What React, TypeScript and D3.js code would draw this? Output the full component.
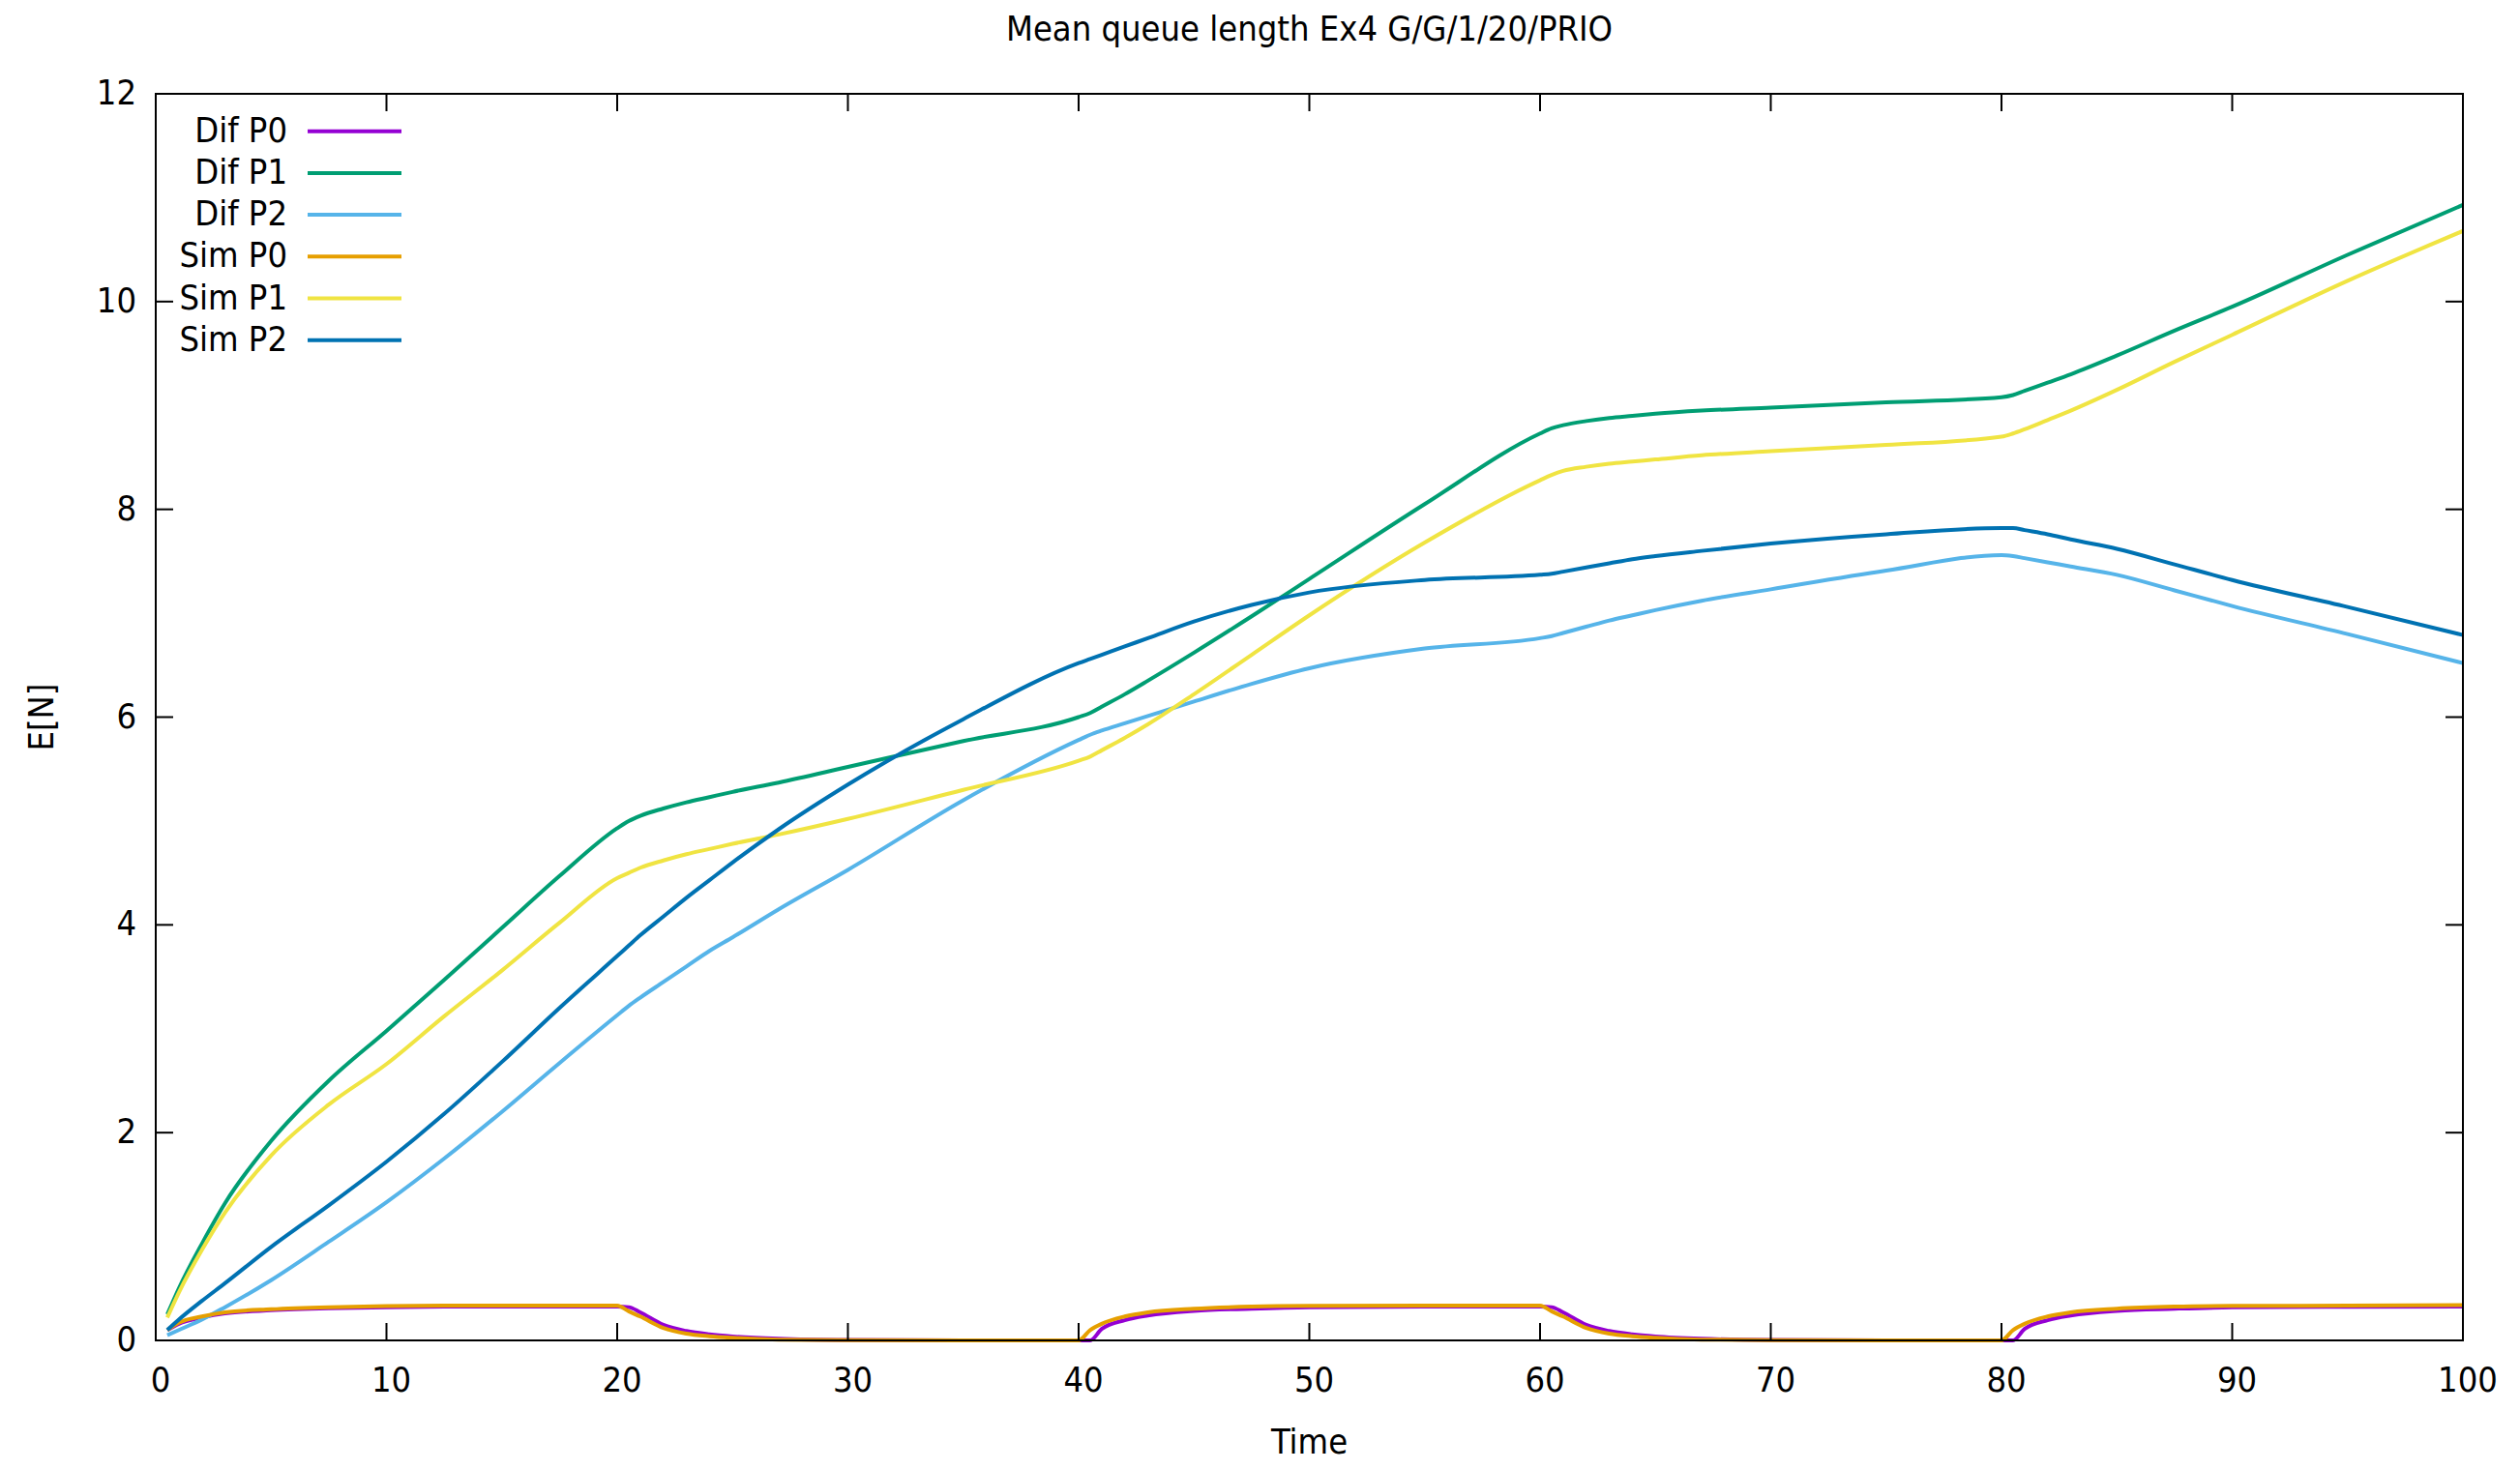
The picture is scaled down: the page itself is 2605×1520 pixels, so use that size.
import React from "react";
import * as d3 from "d3";

const title = "Mean queue length Ex4 G/G/1/20/PRIO";
const xLabel = "Time";
const yLabel = "E[N]";
const xTicks = [0, 10, 20, 30, 40, 50, 60, 70, 80, 90, 100];
const yTicks = [0, 2, 4, 6, 8, 10, 12];

const times = [0.5, 1, 2, 3, 5, 7.5, 10, 12.5, 15, 17.5, 20, 20.5, 21, 22, 23, 24, 25, 27, 30, 35, 40, 40.5, 41, 42, 43, 45, 47.5, 50, 55, 60, 60.5, 61, 62, 63, 64, 65, 67, 70, 75, 80, 80.5, 81, 82, 83, 85, 87.5, 90, 95, 100];

const difP0 = [0.1, 0.16, 0.22, 0.26, 0.29, 0.31, 0.32, 0.325, 0.325, 0.325, 0.325, 0.32, 0.27, 0.15, 0.09, 0.058, 0.038, 0.016, 0.004, 0, 0, 0, 0.11, 0.195, 0.24, 0.285, 0.305, 0.318, 0.325, 0.325, 0.32, 0.27, 0.15, 0.09, 0.058, 0.038, 0.016, 0.004, 0, 0, 0, 0.11, 0.195, 0.24, 0.285, 0.305, 0.318, 0.323, 0.325];
const difP1 = [0.25, 0.5, 0.93, 1.32, 1.92, 2.5, 2.98, 3.47, 3.97, 4.47, 4.93, 5.0, 5.05, 5.12, 5.18, 5.23, 5.28, 5.37, 5.52, 5.77, 6.0, 6.04, 6.1, 6.22, 6.35, 6.62, 6.97, 7.33, 8.05, 8.73, 8.78, 8.81, 8.85, 8.88, 8.9, 8.92, 8.95, 8.98, 9.03, 9.08, 9.1, 9.14, 9.22, 9.3, 9.48, 9.72, 9.95, 10.45, 10.93];
const difP2 = [0.05, 0.1, 0.2, 0.32, 0.58, 0.95, 1.33, 1.75, 2.2, 2.67, 3.13, 3.22, 3.3, 3.45, 3.6, 3.75, 3.88, 4.15, 4.53, 5.2, 5.78, 5.83, 5.87, 5.94, 6.01, 6.15, 6.32, 6.47, 6.66, 6.76, 6.78, 6.81, 6.87, 6.93, 6.98, 7.03, 7.12, 7.23, 7.41, 7.56, 7.55, 7.53, 7.49, 7.45, 7.37, 7.22, 7.07, 6.8, 6.52];
const simP0 = [0.1, 0.17, 0.23, 0.27, 0.3, 0.32, 0.33, 0.335, 0.335, 0.335, 0.335, 0.28, 0.23, 0.12, 0.065, 0.04, 0.025, 0.008, 0.002, 0, 0, 0.1, 0.16, 0.23, 0.27, 0.305, 0.325, 0.332, 0.335, 0.335, 0.28, 0.23, 0.12, 0.065, 0.04, 0.025, 0.008, 0.002, 0, 0, 0.1, 0.16, 0.23, 0.27, 0.305, 0.325, 0.332, 0.335, 0.34];
const simP1 = [0.22, 0.46, 0.87, 1.23, 1.78, 2.27, 2.66, 3.12, 3.56, 4.02, 4.45, 4.5, 4.55, 4.62, 4.68, 4.73, 4.78, 4.87, 5.02, 5.3, 5.58, 5.62, 5.68, 5.8, 5.93, 6.22, 6.6, 6.98, 7.68, 8.28, 8.33, 8.37, 8.41, 8.44, 8.46, 8.48, 8.52, 8.56, 8.62, 8.7, 8.73, 8.77, 8.86, 8.95, 9.15, 9.42, 9.68, 10.2, 10.68];
const simP2 = [0.1, 0.2, 0.38, 0.55, 0.9, 1.3, 1.72, 2.18, 2.68, 3.2, 3.7, 3.8, 3.9, 4.08, 4.26, 4.43, 4.6, 4.92, 5.35, 5.98, 6.52, 6.56, 6.6, 6.68, 6.76, 6.92, 7.08, 7.2, 7.32, 7.37, 7.38, 7.4, 7.44, 7.48, 7.52, 7.55, 7.6, 7.67, 7.76, 7.82, 7.82, 7.8, 7.76, 7.71, 7.62, 7.47, 7.32, 7.06, 6.79];

const seriesNames = ["Dif P0", "Dif P1", "Dif P2", "Sim P0", "Sim P1", "Sim P2"];
const seriesValues = [difP0, difP1, difP2, simP0, simP1, simP2];
const seriesColors = ["#9400d3", "#009e73", "#56b4e9", "#e69f00", "#f0e442", "#0072b2"];

const W = 2605;
const H = 1520;
const L = 161, R = 2546, T = 97, B = 1386;
const FONT = "'DejaVu Sans Condensed', 'DejaVu Sans', sans-serif";
const FS = 36;

export default function App() {
  const x = d3.scaleLinear().domain([0, 100]).range([L, R]);
  const y = d3.scaleLinear().domain([0, 12]).range([B, T]);
  const line = d3
    .line<number>()
    .x((_, i) => x(times[i]))
    .y((v) => y(v))
    .curve(d3.curveMonotoneX);
  const tickLen = 18;

  return (
    <svg
      width={W}
      height={H}
      style={{ position: "absolute", left: 0, top: 0, background: "#fff" }}
      fontFamily={FONT}
      fontStretch="condensed"
      fontSize={FS}
    >
      <rect x={0} y={0} width={W} height={H} fill="#fff" />
      <text x={(L + R) / 2} y={42} textAnchor="middle">{title}</text>

      {seriesValues.map((vals, i) => (
        <path key={i} d={line(vals) || ""} fill="none" stroke={seriesColors[i]} strokeWidth={4} />
      ))}

      <g stroke="#000" strokeWidth={2} fill="none">
        <rect x={L} y={T} width={R - L} height={B - T} />
        {xTicks.map((t) => (
          <g key={"xt" + t}>
            <line x1={x(t)} x2={x(t)} y1={B} y2={B - tickLen} />
            <line x1={x(t)} x2={x(t)} y1={T} y2={T + tickLen} />
          </g>
        ))}
        {yTicks.map((t) => (
          <g key={"yt" + t}>
            <line x1={L} x2={L + tickLen} y1={y(t)} y2={y(t)} />
            <line x1={R} x2={R - tickLen} y1={y(t)} y2={y(t)} />
          </g>
        ))}
      </g>

      {xTicks.map((t) => (
        <text key={"xl" + t} x={x(t) + 5} y={1439} textAnchor="middle">{t}</text>
      ))}
      {yTicks.map((t) => (
        <text key={"yl" + t} x={141} y={y(t) + 11} textAnchor="end">{t}</text>
      ))}

      <text x={(L + R) / 2} y={1503} textAnchor="middle">{xLabel}</text>
      <text transform={`translate(55,${(T + B) / 2}) rotate(-90)`} textAnchor="middle">{yLabel}</text>

      {seriesNames.map((name, i) => {
        const ly = 135.7 + i * 43.2;
        return (
          <g key={"lg" + i}>
            <text x={297} y={ly + 11} textAnchor="end">{name}</text>
            <line x1={318} x2={415} y1={ly} y2={ly} stroke={seriesColors[i]} strokeWidth={4} />
          </g>
        );
      })}
    </svg>
  );
}
